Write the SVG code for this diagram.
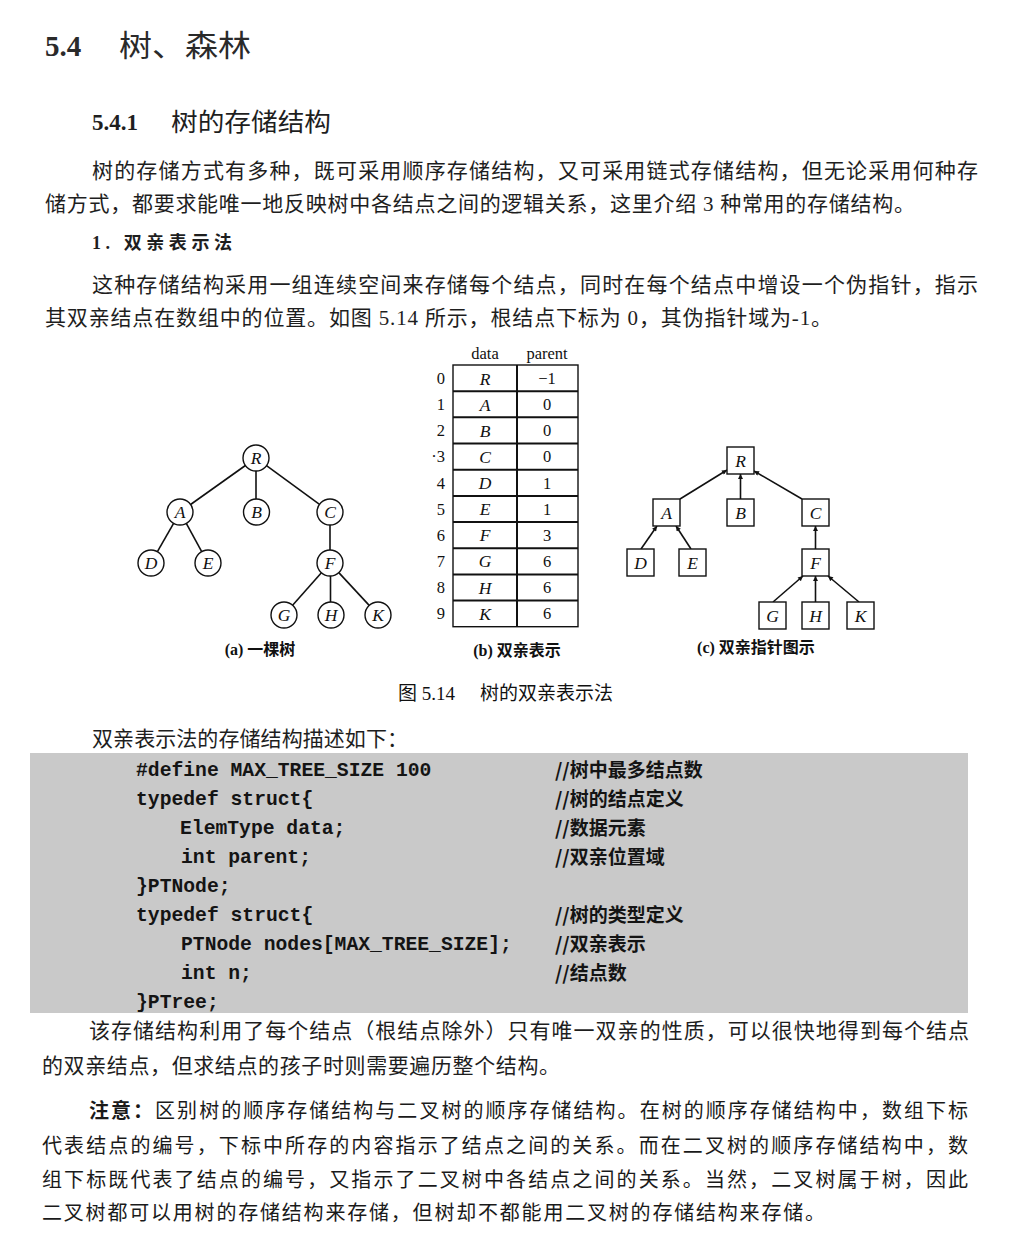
<svg xmlns="http://www.w3.org/2000/svg" width="1016" height="1237" viewBox="0 0 1016 1237">
<style>
  .bg { fill: #ffffff; }
  .body { font-family: "Liberation Serif", "Noto Sans CJK SC", serif; font-size: 21px; fill: #1e1e1e; }
  .kai { font-family: "Liberation Serif", "Noto Sans CJK SC", serif; font-size: 20px; fill: #1a1a1a; }
  .h1num { font-family: "Liberation Serif", serif; font-weight: bold; font-size: 29px; fill: #2a2a2a; }
  .h1 { font-family: "Noto Sans CJK SC", sans-serif; font-size: 30px; fill: #2a2a2a; }
  .h2num { font-family: "Liberation Serif", serif; font-weight: bold; font-size: 23px; fill: #1e1e1e; }
  .h2 { font-family: "Noto Sans CJK SC", sans-serif; font-size: 25px; fill: #1e1e1e; }
  .h3 { font-family: "Liberation Serif", "Noto Sans CJK SC", serif; font-weight: bold; font-size: 18px; fill: #1e1e1e; }
  .cap { font-family: "Liberation Serif", "Noto Sans CJK SC", sans-serif; font-weight: bold; font-size: 16px; fill: #111; text-anchor: middle; }
  .figt { font-family: "Liberation Serif", "Noto Sans CJK SC", serif; font-size: 19px; fill: #111; }
  .lbl { font-family: "Liberation Serif", serif; font-style: italic; font-size: 17.5px; fill: #111; text-anchor: middle; }
  .num { font-family: "Liberation Serif", serif; font-size: 16.5px; fill: #111; text-anchor: middle; }
  .idx { font-family: "Liberation Serif", serif; font-size: 16.5px; fill: #111; text-anchor: end; }
  .circ { fill: #fff; stroke: #111; stroke-width: 1.4; }
  .box { fill: #fff; stroke: #111; stroke-width: 1.4; }
  .edge { stroke: #111; stroke-width: 1.6; fill: none; }
  .arr { stroke: #111; stroke-width: 1.6; fill: none; marker-end: url(#ah); }
  .tbl { stroke: #111; stroke-width: 1.4; fill: #fff; }
  .rowln { stroke: #111; stroke-width: 2; }
  .code { font-family: "Liberation Mono", monospace; font-weight: bold; font-size: 19.7px; fill: #141414; white-space: pre; }
  .cmt { font-family: "Noto Sans CJK SC", sans-serif; font-weight: bold; font-size: 19px; fill: #141414; }
</style>
<defs>
  <marker id="ah" viewBox="0 0 10 10" refX="10" refY="5" markerWidth="9" markerHeight="5" markerUnits="userSpaceOnUse" orient="auto">
    <path d="M0,0 L10,5 L0,10 z" fill="#111"/>
  </marker>
</defs>
<rect class="bg" x="0" y="0" width="1016" height="1237"/>

<!-- Headings -->
<g id="heading">
  <text class="h1num" x="45" y="56">5.4</text>
  <text class="h1" x="119" y="56" textLength="132" lengthAdjust="spacingAndGlyphs">树、森林</text>
  <text class="h2num" x="92" y="130">5.4.1</text>
  <text class="h2" x="171" y="131" textLength="160" lengthAdjust="spacingAndGlyphs">树的存储结构</text>
</g>

<g id="para1">
  <text class="body" x="92" y="178" textLength="886" lengthAdjust="spacing">树的存储方式有多种，既可采用顺序存储结构，又可采用链式存储结构，但无论采用何种存</text>
  <text class="body" x="45" y="211" textLength="870" lengthAdjust="spacing">储方式，都要求能唯一地反映树中各结点之间的逻辑关系，这里介绍 3 种常用的存储结构。</text>
  <text class="h3" x="92" y="249" textLength="140" lengthAdjust="spacing">1. 双亲表示法</text>
  <text class="body" x="92" y="292" textLength="886" lengthAdjust="spacing">这种存储结构采用一组连续空间来存储每个结点，同时在每个结点中增设一个伪指针，指示</text>
  <text class="body" x="45" y="325" textLength="787" lengthAdjust="spacing">其双亲结点在数组中的位置。如图 5.14 所示，根结点下标为 0，其伪指针域为-1。</text>
</g>

<!-- (a) tree -->
<g id="connectors-a">
  <line class="edge" x1="245.4" y1="465.5" x2="190.6" y2="504.5"/>
  <line class="edge" x1="256" y1="471" x2="256" y2="499"/>
  <line class="edge" x1="266.5" y1="465.7" x2="319.5" y2="504.3"/>
  <line class="edge" x1="173.6" y1="523.3" x2="157.4" y2="551.7"/>
  <line class="edge" x1="186.3" y1="523.4" x2="201.7" y2="551.6"/>
  <line class="edge" x1="330" y1="525" x2="330" y2="550"/>
  <line class="edge" x1="321.4" y1="572.7" x2="292.6" y2="605.3"/>
  <line class="edge" x1="330.5" y1="576" x2="330.5" y2="602"/>
  <line class="edge" x1="338.8" y1="572.6" x2="369.2" y2="605.4"/>
</g>
<g id="a-R"><circle class="circ" cx="256" cy="458" r="13"/><text class="lbl" x="256" y="464">R</text></g>
<g id="a-A"><circle class="circ" cx="180" cy="512" r="13"/><text class="lbl" x="180" y="518">A</text></g>
<g id="a-B"><circle class="circ" cx="256.5" cy="512" r="13"/><text class="lbl" x="256.5" y="518">B</text></g>
<g id="a-C"><circle class="circ" cx="330" cy="512" r="13"/><text class="lbl" x="330" y="518">C</text></g>
<g id="a-D"><circle class="circ" cx="151" cy="563" r="13"/><text class="lbl" x="151" y="569">D</text></g>
<g id="a-E"><circle class="circ" cx="208" cy="563" r="13"/><text class="lbl" x="208" y="569">E</text></g>
<g id="a-F"><circle class="circ" cx="330" cy="563" r="13"/><text class="lbl" x="330" y="569">F</text></g>
<g id="a-G"><circle class="circ" cx="284" cy="615" r="13"/><text class="lbl" x="284" y="621">G</text></g>
<g id="a-H"><circle class="circ" cx="331" cy="615" r="13"/><text class="lbl" x="331" y="621">H</text></g>
<g id="a-K"><circle class="circ" cx="378" cy="615" r="13"/><text class="lbl" x="378" y="621">K</text></g>
<text class="cap" x="260" y="655">(a) 一棵树</text>

<!-- (b) table -->
<g id="table-b">
  <text class="num" x="485" y="359">data</text>
  <text class="num" x="547" y="359">parent</text>
  <rect class="tbl" x="453" y="365" width="125" height="261.7"/>
  <line class="rowln" x1="517" y1="365" x2="517" y2="626.7"/>
  <line class="rowln" x1="453" y1="391.2" x2="578" y2="391.2"/>
  <line class="rowln" x1="453" y1="417.3" x2="578" y2="417.3"/>
  <line class="rowln" x1="453" y1="443.5" x2="578" y2="443.5"/>
  <line class="rowln" x1="453" y1="469.7" x2="578" y2="469.7"/>
  <line class="rowln" x1="453" y1="495.9" x2="578" y2="495.9"/>
  <line class="rowln" x1="453" y1="522" x2="578" y2="522"/>
  <line class="rowln" x1="453" y1="548.2" x2="578" y2="548.2"/>
  <line class="rowln" x1="453" y1="574.4" x2="578" y2="574.4"/>
  <line class="rowln" x1="453" y1="600.5" x2="578" y2="600.5"/>
  <text class="idx" x="445" y="384">0</text><text class="lbl" x="485" y="384.5">R</text><text class="num" x="547" y="384">−1</text>
  <text class="idx" x="445" y="410">1</text><text class="lbl" x="485" y="410.5">A</text><text class="num" x="547" y="410">0</text>
  <text class="idx" x="445" y="436">2</text><text class="lbl" x="485" y="436.5">B</text><text class="num" x="547" y="436">0</text>
  <text class="idx" x="445" y="462">·3</text><text class="lbl" x="485" y="462.5">C</text><text class="num" x="547" y="462">0</text>
  <text class="idx" x="445" y="488.5">4</text><text class="lbl" x="485" y="489">D</text><text class="num" x="547" y="488.5">1</text>
  <text class="idx" x="445" y="514.5">5</text><text class="lbl" x="485" y="515">E</text><text class="num" x="547" y="514.5">1</text>
  <text class="idx" x="445" y="540.5">6</text><text class="lbl" x="485" y="541">F</text><text class="num" x="547" y="540.5">3</text>
  <text class="idx" x="445" y="566.5">7</text><text class="lbl" x="485" y="567">G</text><text class="num" x="547" y="566.5">6</text>
  <text class="idx" x="445" y="593">8</text><text class="lbl" x="485" y="593.5">H</text><text class="num" x="547" y="593">6</text>
  <text class="idx" x="445" y="619">9</text><text class="lbl" x="485" y="619.5">K</text><text class="num" x="547" y="619">6</text>
</g>
<text class="cap" x="517" y="656">(b) 双亲表示</text>

<!-- (c) parent pointer diagram -->
<g id="connectors-c">
  <line class="arr" x1="680" y1="499" x2="727" y2="470"/>
  <line class="arr" x1="740.5" y1="499" x2="740.5" y2="474"/>
  <line class="arr" x1="802" y1="499" x2="754" y2="471"/>
  <line class="arr" x1="641" y1="549" x2="657" y2="526"/>
  <line class="arr" x1="691" y1="549" x2="676" y2="526"/>
  <line class="arr" x1="815.5" y1="549" x2="815.5" y2="526"/>
  <line class="arr" x1="773" y1="602" x2="803" y2="576"/>
  <line class="arr" x1="815.5" y1="602" x2="815.5" y2="576"/>
  <line class="arr" x1="859" y1="602" x2="828" y2="576"/>
</g>
<g id="c-R"><rect class="box" x="727" y="447" width="27" height="27"/><text class="lbl" x="740.5" y="466.5">R</text></g>
<g id="c-A"><rect class="box" x="653" y="499" width="27" height="27"/><text class="lbl" x="666.5" y="518.5">A</text></g>
<g id="c-B"><rect class="box" x="727" y="499" width="27" height="27"/><text class="lbl" x="740.5" y="518.5">B</text></g>
<g id="c-C"><rect class="box" x="802" y="499" width="27" height="27"/><text class="lbl" x="815.5" y="518.5">C</text></g>
<g id="c-D"><rect class="box" x="627" y="549" width="27" height="27"/><text class="lbl" x="640.5" y="568.5">D</text></g>
<g id="c-E"><rect class="box" x="679" y="549" width="27" height="27"/><text class="lbl" x="692.5" y="568.5">E</text></g>
<g id="c-F"><rect class="box" x="802" y="549" width="27" height="27"/><text class="lbl" x="815.5" y="568.5">F</text></g>
<g id="c-G"><rect class="box" x="759" y="602" width="27" height="27"/><text class="lbl" x="772.5" y="621.5">G</text></g>
<g id="c-H"><rect class="box" x="802" y="602" width="27" height="27"/><text class="lbl" x="815.5" y="621.5">H</text></g>
<g id="c-K"><rect class="box" x="847" y="602" width="27" height="27"/><text class="lbl" x="860.5" y="621.5">K</text></g>
<text class="cap" x="756" y="653">(c) 双亲指针图示</text>

<text class="figt" x="398" y="700">图 5.14<tspan x="480">树的双亲表示法</tspan></text>

<text class="body" x="92" y="746" textLength="316" lengthAdjust="spacing">双亲表示法的存储结构描述如下：</text>

<!-- code block -->
<g id="codeblock">
  <rect x="30" y="753" width="938" height="260" fill="#c9c9c9"/>
  <text class="code" x="136" y="776">#define MAX_TREE_SIZE 100</text>
  <text class="code" x="136" y="805">typedef struct{</text>
  <text class="code" x="180" y="834">ElemType data;</text>
  <text class="code" x="181" y="863">int parent;</text>
  <text class="code" x="136" y="892">}PTNode;</text>
  <text class="code" x="136" y="921">typedef struct{</text>
  <text class="code" x="181" y="950">PTNode nodes[MAX_TREE_SIZE];</text>
  <text class="code" x="181" y="979">int n;</text>
  <text class="code" x="136" y="1008">}PTree;</text>
  <text class="cmt" x="555" y="777">//树中最多结点数</text>
  <text class="cmt" x="555" y="806">//树的结点定义</text>
  <text class="cmt" x="555" y="835">//数据元素</text>
  <text class="cmt" x="555" y="864">//双亲位置域</text>
  <text class="cmt" x="555" y="922">//树的类型定义</text>
  <text class="cmt" x="555" y="951">//双亲表示</text>
  <text class="cmt" x="555" y="980">//结点数</text>
</g>

<g id="para3">
  <text class="body" x="89" y="1038" textLength="880" lengthAdjust="spacing">该存储结构利用了每个结点（根结点除外）只有唯一双亲的性质，可以很快地得到每个结点</text>
  <text class="body" x="42" y="1073" textLength="518" lengthAdjust="spacing">的双亲结点，但求结点的孩子时则需要遍历整个结构。</text>
</g>

<g id="note">
  <text class="kai" x="89" y="1118" textLength="879" lengthAdjust="spacing"><tspan font-weight="bold">注意：</tspan>区别树的顺序存储结构与二叉树的顺序存储结构。在树的顺序存储结构中，数组下标</text>
  <text class="kai" x="42" y="1153" textLength="926" lengthAdjust="spacing">代表结点的编号，下标中所存的内容指示了结点之间的关系。而在二叉树的顺序存储结构中，数</text>
  <text class="kai" x="42" y="1187" textLength="926" lengthAdjust="spacing">组下标既代表了结点的编号，又指示了二叉树中各结点之间的关系。当然，二叉树属于树，因此</text>
  <text class="kai" x="42" y="1220" textLength="783" lengthAdjust="spacing">二叉树都可以用树的存储结构来存储，但树却不都能用二叉树的存储结构来存储。</text>
</g>
</svg>
